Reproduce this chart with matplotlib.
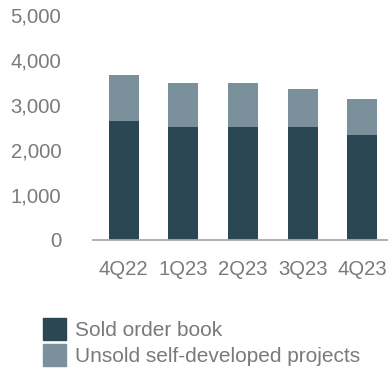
import matplotlib.pyplot as plt
from matplotlib.patches import Patch

quarters = ['4Q22', '1Q23', '2Q23', '3Q23', '4Q23']
sold_order_book = [2630, 2500, 2500, 2500, 2320]
unsold_projects = [1020, 980, 980, 840, 800]

dark = '#2b4754'
light = '#7a919c'
grey_text = '#7a7a7a'

plt.rcParams['font.family'] = ['Liberation Sans', 'DejaVu Sans']

fig = plt.figure(figsize=(3.88, 3.71), dpi=100)
ax = fig.add_axes([0.2405, 0.3544, 0.7595, 0.6065])

x = range(len(quarters))
ax.bar(x, sold_order_book, width=0.5, color=dark)
ax.bar(x, unsold_projects, width=0.5, bottom=sold_order_book, color=light)

ax.set_xlim(-0.51, 4.43)
ax.set_ylim(0, 5000)
ax.set_yticks([0, 1000, 2000, 3000, 4000, 5000])
ax.set_yticklabels(['0', '1,000', '2,000', '3,000', '4,000', '5,000'])
ax.set_xticks(list(x))
ax.set_xticklabels(quarters)

for side in ['top', 'right', 'left']:
    ax.spines[side].set_visible(False)
ax.spines['bottom'].set_color('#aaaaaa')
ax.spines['bottom'].set_linewidth(1.3)
ax.tick_params(axis='both', length=0, labelsize=14.6, colors=grey_text)
ax.tick_params(axis='y', pad=23)
ax.tick_params(axis='x', pad=15)

handles = [Patch(color=dark, label='Sold order book'),
           Patch(color=light, label='Unsold self-developed projects')]
fig.legend(handles=handles, loc='upper left', bbox_to_anchor=(0.111, 0.142),
           frameon=False, fontsize=15, labelcolor=grey_text,
           handlelength=1.1, handleheight=1.2, handletextpad=0.42,
           labelspacing=0.2, borderpad=0, borderaxespad=0)

fig.savefig('out.png', dpi=100)
